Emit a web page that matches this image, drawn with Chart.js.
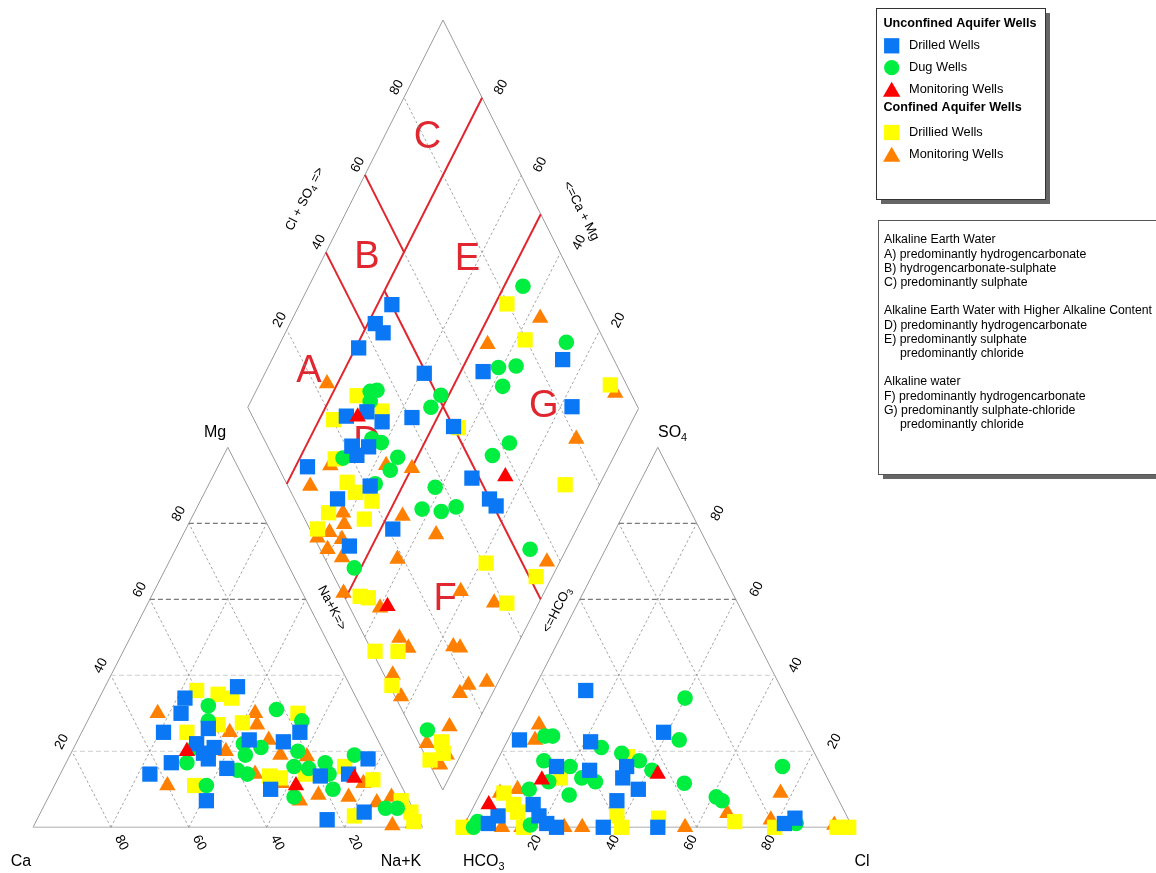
<!DOCTYPE html>
<html>
<head>
<meta charset="utf-8">
<title>Piper diagram</title>
<script src="https://cdn.jsdelivr.net/npm/chart.js@4/dist/chart.umd.min.js"></script>
<style>
html,body{margin:0;padding:0;background:#fff;}
canvas{display:block;}
</style>
</head>
<body>
<canvas id="piper" width="1156" height="873"></canvas>
<script>
// ---- Cation triangle: [Na+K %, Mg %]  (Ca = 100 - Na+K - Mg)
const cationDrilledU = [[34,37],[22,34],[23,30],[21,25],[32,26],[31,22],[36,21],[36,18],[34,19.5],[44,23],[53,22.5],[56,25],[27,17],[23,14],[42,15.5],[56,10],[41,7],[77,18],[74,14],[67,13.5],[83,4],[74.5,2]];
const cationDugU = [[29,32],[31,28],[47,31],[55,28],[31,21],[31,17],[43,22],[45,19],[48,21],[58,20],[59,16],[63,15.5],[66.5,17],[69,14],[73,19],[72,10],[39,11],[45,15],[48,14],[63,8],[88,5],[91,5]];
const cationMonU = [[29.5,20],[62,11],[76,13]];
const cationDrilledC = [[24,36],[30,35],[34,34],[27,25],[34,27],[40,27.5],[53,30],[36,11],[54,13.5],[57,13],[81,12.5],[81,3],[91,7],[97,1.5],[72,16],[63,14],[95,4]];
const cationMonC = [[17,30],[42,30],[44,27],[38,25],[39.5,20],[49,23],[54,19],[29,11],[79,11.6],[69,8.5],[77,8],[65,7],[85,6.5],[92,0.5],[97,1],[88,8],[58,11.6],[50,14],[61,18.6]];

// ---- Anion triangle: [Cl %, SO4 %]  (HCO3 = 100 - Cl - SO4)
const anionDrilledU = [[13.5,36],[39,25],[3,23],[21.5,22.5],[16,16],[25,15],[34,16],[34.5,13],[40,10],[36,7],[15,6],[7.5,3],[6,1],[18,3],[21,1],[24,0],[36,0],[50,0],[82,1],[84,2.4]];
const anionDugU = [[40,34],[44,23],[9,24],[11,24],[25,21],[31,19.5],[36.5,17.5],[41,15],[12,17.5],[19.5,16],[24,13],[28,12],[16,12],[12,10],[23,8.5],[51,11.6],[61,8],[63,7],[74,16],[3,1.5],[2.7,0],[17,0.6],[85,1]];
const anionMonU = [[14,12.5],[43,14],[3.6,6]];
const anionDrilledC = [[38,3],[40.7,0],[49,2.4],[69,1.5],[80,0],[96,0],[99,0],[0,0],[6,9],[10,6],[12,4],[15.5,0],[18.5,13],[33,18.6]];
const anionMonC = [[6,27],[7,23],[5,9],[9,10],[77,9],[66,3.7],[57,0],[30.6,0],[95,0.6],[78,2],[1,0],[10,0],[26,0],[15,0]];

// ---- Diamond: [Cl+SO4 %, Ca+Mg %]
const diamondDrilledU = [[50.1,76.3],[43.4,78.1],[44.2,74.9],[36,79.2],[49.5,59.1],[64.8,44.3],[86.8,25.6],[83.1,17.1],[24,73.5],[29.8,68.8],[32.4,63.6],[40.6,56.5],[50.1,44.7],[21.5,68.2],[25.7,63.8],[21.6,65.7],[7.5,76.9],[48.1,33.3],[21,58.3],[11,65],[49.9,26.1],[50.7,23.5],[21.2,46.9],[7.9,55.8]];
const diamondDugU = [[86.1,45.2],[90,26.9],[69.3,40.9],[74,36.6],[67.9,37.4],[33.3,70.6],[35.2,69],[32,69.3],[50.9,52],[46.8,53],[27.6,64],[29.5,61.1],[17.7,68.9],[31.8,55],[28.2,55.2],[62.3,28.3],[56.3,31],[22.6,57.3],[37.5,41.5],[31.3,42],[35.9,36.8],[40.3,33.6],[53.8,9.2],[6.3,51.7],[3.9,11.8]];
const diamondMonU = [[26.8,70.5],[56.9,25],[9.8,38.2]];
const diamondDrilledC = [[79.7,47],[79.7,37.7],[95.8,10.2],[29.4,73.4],[33.8,65],[20.3,76.3],[15.6,70.8],[51.2,43.3],[71.2,8.7],[15.6,64.7],[16.4,61.3],[19.5,55.9],[6.9,65.5],[2,66.2],[15.2,55.5],[40.7,18.6],[51.8,4.1],[4.1,46.5],[6,44.2],[40.8,8.1],[0.75,35.5],[6.6,29.6],[0.6,26.7],[0.65,7.2],[6,6.6],[4.9,4.7]];
const diamondMonC = [[86.4,36.7],[69.5,46.7],[23.3,82.7],[96,7.9],[80,11.8],[34,49.9],[5.7,73.7],[13.5,71.2],[27.8,56.9],[25.4,46.1],[31.6,35.1],[10.6,61.8],[9.4,60],[4.6,62.7],[6.9,58.6],[1.9,61],[4.5,56.2],[0.8,65.1],[18.5,41.8],[0.3,51.2],[7.7,39.9],[30.5,21.4],[37.6,11.4],[56.5,3.3],[8.7,31],[9.7,27.4],[21.4,16.1],[23,14.2],[2.2,27.9],[1.5,22.9],[20.3,7.2],[17,8.3],[25.4,2.9],[10,6.6],[2,10.2],[2.6,4],[5.6,3.6]];

// ---- Tick values and classification boundaries
const gridTicks = [20, 40, 60, 80];
const tickLabels = ['20', '40', '60', '80'];
const caMgBoundaries = [80, 50];               // full-width lines of constant Ca+Mg
const clSo4Upper = [40, 60];                   // constant Cl+SO4, only above Ca+Mg = 80
const clSo4Lower = [50];                       // constant Cl+SO4, below Ca+Mg = 80
const regionLetters = ['A', 'B', 'C', 'D', 'E', 'F', 'G'];
const regionCentres = [[20.4, 89.1], [50, 89], [81, 89], [26, 65], [75.5, 63], [25.5, 24.4], [76, 24.5]]; // [Cl+SO4, Ca+Mg]

// ---- Layout of the three plotting fields (in canvas units)
const LEFT  = {a:{x:33,  y:827.3}, b:{x:422.6, y:827.3}, c:{x:227.8, y:447.3}}; // Ca, Na+K, Mg
const RIGHT = {a:{x:463, y:827.3}, b:{x:852.6, y:827.3}, c:{x:657.8, y:447.3}}; // HCO3, Cl, SO4
const DIA   = {b:{x:442.8, y:790}, r:{x:638.5, y:408.5}, l:{x:247.8, y:407.3}, t:{x:443, y:20}};

function tri(T, p, q) {
  return {
    x: T.a.x + p / 100 * (T.b.x - T.a.x) + q / 100 * (T.c.x - T.a.x),
    y: T.a.y + p / 100 * (T.b.y - T.a.y) + q / 100 * (T.c.y - T.a.y)
  };
}
function dia(cs, cm) {
  const c = cs / 100, m = cm / 100, D = DIA;
  return {
    x: D.b.x + c * (D.r.x - D.b.x) + m * (D.l.x - D.b.x) + c * m * (D.t.x - D.r.x - D.l.x + D.b.x),
    y: D.b.y + c * (D.r.y - D.b.y) + m * (D.l.y - D.b.y) + c * m * (D.t.y - D.r.y - D.l.y + D.b.y)
  };
}

const series = [
  {label:'Monitoring Wells', color:'#ff0000', style:'triangle', radius:9.5, cat:cationMonU,     an:anionMonU,     di:diamondMonU,     order:1},
  {label:'Drilled Wells',    color:'#0a78f5', style:'rect',     radius:10.8, cat:cationDrilledU, an:anionDrilledU, di:diamondDrilledU, order:2},
  {label:'Dug Wells',        color:'#00ee40', style:'circle',   radius:7.8, cat:cationDugU,     an:anionDugU,     di:diamondDugU,     order:3},
  {label:'Drillied Wells',   color:'#ffff00', style:'rect',     radius:10.8, cat:cationDrilledC, an:anionDrilledC, di:diamondDrilledC, order:4},
  {label:'Monitoring Wells', color:'#ff8000', style:'triangle', radius:9.5, cat:cationMonC,     an:anionMonC,     di:diamondMonC,     order:5}
];

const datasets = [];
series.forEach(s => {
  const pts = []
    .concat(s.cat.map(v => tri(LEFT, v[0], v[1])))
    .concat(s.an.map(v => tri(RIGHT, v[0], v[1])))
    .concat(s.di.map(v => dia(v[0], v[1])));
  datasets.push({
    label: s.label, data: pts, showLine: false,
    pointStyle: s.style, pointRadius: s.radius, pointHoverRadius: s.radius,
    backgroundColor: s.color, borderColor: s.color, pointBorderWidth: 0,
    order: s.order
  });
});

function seg(points, color, width, dash, order) {
  datasets.push({
    data: points, showLine: true, pointRadius: 0, pointHoverRadius: 0,
    borderColor: color, borderWidth: width, borderDash: dash || [], fill: false,
    order: order || 50, tension: 0
  });
}

// triangles: frame and grid
[LEFT, RIGHT].forEach(T => {
  gridTicks.forEach(k => {
    const strong = k >= 60;
    seg([tri(T, 0, k), tri(T, 100 - k, k)], strong ? '#7a7a7a' : '#cfcfcf', strong ? 1.2 : 1, [5, 3]);
    seg([tri(T, k, 0), tri(T, k, 100 - k)], '#8a8a8a', 0.8, [2.5, 2.5]);
    seg([tri(T, 100 - k, 0), tri(T, 0, 100 - k)], '#8a8a8a', 0.8, [2.5, 2.5]);
  });
  seg([tri(T, 0, 0), tri(T, 100, 0)], '#c8c8c8', 1.6);
  seg([tri(T, 100, 0), tri(T, 0, 100), tri(T, 0, 0)], '#9a9a9a', 1);
});

// diamond: frame and grid
gridTicks.forEach(k => {
  seg([dia(k, 0), dia(k, 100)], '#8a8a8a', 0.8, [2.5, 2.5]);
  seg([dia(0, k), dia(100, k)], '#8a8a8a', 0.8, [2.5, 2.5]);
});
seg([dia(0, 0), dia(100, 0), dia(100, 100), dia(0, 100), dia(0, 0)], '#9a9a9a', 1);

// classification boundaries
const RED = '#e0262e';
caMgBoundaries.forEach(v => seg([dia(0, v), dia(100, v)], RED, 2, [], 20));
clSo4Upper.forEach(v => seg([dia(v, 80), dia(v, 100)], RED, 2, [], 20));
clSo4Lower.forEach(v => seg([dia(v, 0), dia(v, 80)], RED, 2, [], 20));

// ---- text helpers
const FONT = '"Liberation Sans", Arial, Helvetica, sans-serif';
const ANG = Math.atan2(380, 194.8);

function richText(ctx, parts, x, y, angle, size, align) {
  ctx.save();
  ctx.translate(x, y);
  ctx.rotate(angle);
  ctx.textBaseline = 'middle';
  ctx.textAlign = 'left';
  let total = 0;
  const widths = parts.map(p => {
    ctx.font = (p.sub ? size * 0.68 : size) + 'px ' + FONT;
    const w = ctx.measureText(p.t).width;
    total += w;
    return w;
  });
  let pos = align === 'left' ? 0 : -total / 2;
  parts.forEach((p, i) => {
    ctx.font = (p.sub ? size * 0.68 : size) + 'px ' + FONT;
    ctx.fillText(p.t, pos, p.sub ? size * 0.3 : 0);
    pos += widths[i];
  });
  ctx.restore();
}

function marker(ctx, style, x, y, r, color) {
  ctx.save();
  ctx.fillStyle = color;
  ctx.beginPath();
  if (style === 'rect') {
    const h = r * Math.SQRT1_2;
    ctx.rect(x - h, y - h, 2 * h, 2 * h);
  } else if (style === 'circle') {
    ctx.arc(x, y, r, 0, Math.PI * 2);
  } else {
    ctx.moveTo(x, y - r);
    ctx.lineTo(x + r * Math.sin(Math.PI * 2 / 3), y + r / 2);
    ctx.lineTo(x - r * Math.sin(Math.PI * 2 / 3), y + r / 2);
    ctx.closePath();
  }
  ctx.fill();
  ctx.restore();
}

const legendGroups = [
  {title: 'Unconfined Aquifer Wells', items: [series[1], series[2], series[0]]},
  {title: 'Confined Aquifer Wells', items: [series[3], series[4]]}
];
const classNotes = [
  ['Alkaline Earth Water', 0],
  ['A) predominantly hydrogencarbonate', 0],
  ['B) hydrogencarbonate-sulphate', 0],
  ['C) predominantly sulphate', 0],
  ['', 0],
  ['Alkaline Earth Water with Higher Alkaline Content', 0],
  ['D) predominantly hydrogencarbonate', 0],
  ['E) predominantly sulphate', 0],
  ['predominantly chloride', 1],
  ['', 0],
  ['Alkaline water', 0],
  ['F) predominantly hydrogencarbonate', 0],
  ['G) predominantly sulphate-chloride', 0],
  ['predominantly chloride', 1]
];

const piperText = {
  id: 'piperText',
  beforeDatasetsDraw(chart) {
    const ctx = chart.ctx, sx = chart.scales.x, sy = chart.scales.y;
    ctx.save();
    ctx.fillStyle = RED;
    ctx.font = '38px ' + FONT;
    ctx.textAlign = 'center';
    ctx.textBaseline = 'middle';
    regionLetters.forEach((L, i) => {
      const p = dia(regionCentres[i][0], regionCentres[i][1]);
      ctx.fillText(L, sx.getPixelForValue(p.x), sy.getPixelForValue(p.y) + 1);
    });
    ctx.restore();
  },
  afterDatasetsDraw(chart) {
    const ctx = chart.ctx, sx = chart.scales.x, sy = chart.scales.y;
    const X = v => sx.getPixelForValue(v), Y = v => sy.getPixelForValue(v);
    ctx.save();
    ctx.fillStyle = '#000';

    // tick labels
    gridTicks.forEach((k, i) => {
      const t = [{t: tickLabels[i]}];
      let p = tri(LEFT, 100 - k, 0);            // Ca along the base
      richText(ctx, t, X(p.x) + 10.5, Y(p.y) + 15.5, ANG, 13.5);
      p = tri(LEFT, 0, k);                      // Mg along the left side
      richText(ctx, t, X(p.x) - 10, Y(p.y) - 9.5, -ANG, 13.5);
      p = tri(RIGHT, k, 0);                     // Cl along the base
      richText(ctx, t, X(p.x) - 6, Y(p.y) + 15.5, -ANG, 13.5);
      p = tri(RIGHT, 100 - k, k);               // SO4 along the right side
      richText(ctx, t, X(p.x) + 21, Y(p.y) - 10, -ANG, 13.5);
      p = dia(k, 100);                          // Cl+SO4 on the upper left
      richText(ctx, t, X(p.x) - 7, Y(p.y) - 10, -ANG, 13.5);
      p = dia(100, k);                          // Ca+Mg on the upper right
      richText(ctx, t, X(p.x) + 19, Y(p.y) - 10.5, -ANG, 13.5);
    });

    // corner and axis names
    richText(ctx, [{t:'Ca'}], X(21), Y(862), 0, 16);
    richText(ctx, [{t:'Na+K'}], X(401), Y(862), 0, 16);
    richText(ctx, [{t:'Mg'}], X(215), Y(433), 0, 16);
    richText(ctx, [{t:'HCO'}, {t:'3', sub:true}], X(463), Y(862), 0, 16, 'left');
    richText(ctx, [{t:'Cl'}], X(862), Y(862), 0, 16);
    richText(ctx, [{t:'SO'}, {t:'4', sub:true}], X(658), Y(433), 0, 16, 'left');
    richText(ctx, [{t:'Cl + SO'}, {t:'4', sub:true}, {t:' =>'}], X(305), Y(199), -ANG, 13);
    richText(ctx, [{t:'<=Ca + Mg'}], X(581), Y(211), ANG, 13);
    richText(ctx, [{t:'Na+K=>'}], X(332), Y(608), ANG, 13);
    richText(ctx, [{t:'<=HCO'}, {t:'3', sub:true}], X(557), Y(610), -ANG, 13);

    // legend box
    const bx = X(876), by = Y(8), bw = 169, bh = 191;
    ctx.fillStyle = '#666';
    ctx.fillRect(bx + 5, by + 5, bw, bh);
    ctx.fillStyle = '#fff';
    ctx.fillRect(bx, by, bw, bh);
    ctx.strokeStyle = '#333';
    ctx.lineWidth = 1;
    ctx.strokeRect(bx + 0.5, by + 0.5, bw, bh);
    const rows = [24, 45.8, 67.7, 89.3, 108, 132.5, 154.3];
    let r = 0;
    ctx.textBaseline = 'middle';
    ctx.textAlign = 'left';
    legendGroups.forEach(g => {
      ctx.fillStyle = '#000';
      ctx.font = 'bold 12.6px ' + FONT;
      ctx.fillText(g.title, X(883.5), Y(rows[r++]));
      g.items.forEach(s => {
        const yy = Y(rows[r++]);
        const rr = s.style === 'circle' ? 7.6 : (s.style === 'rect' ? 10.8 : 10);
        marker(ctx, s.style, X(891.7), yy + (s.style === 'triangle' ? 2.5 : 0), rr, s.color);
        ctx.fillStyle = '#000';
        ctx.font = '12.8px ' + FONT;
        ctx.fillText(s.label, X(909), yy);
      });
    });

    // classification notes box
    const nx = X(878), ny = Y(220), nw = 290, nh = 254;
    ctx.fillStyle = '#666';
    ctx.fillRect(nx + 5, ny + 5, nw, nh);
    ctx.fillStyle = '#fff';
    ctx.fillRect(nx, ny, nw, nh);
    ctx.strokeStyle = '#555';
    ctx.strokeRect(nx + 0.5, ny + 0.5, nw, nh);
    ctx.fillStyle = '#000';
    ctx.font = '12.3px ' + FONT;
    classNotes.forEach((n, i) => {
      if (!n[0]) return;
      ctx.fillText(n[0], X(884 + n[1] * 16), Y(240 + i * 14.2), 268);
    });
    ctx.restore();
  }
};

new Chart(document.getElementById('piper'), {
  type: 'scatter',
  data: {datasets},
  options: {
    responsive: false,
    animation: false,
    devicePixelRatio: 1,
    layout: {padding: 0, autoPadding: false},
    events: [],
    plugins: {legend: {display: false}, tooltip: {enabled: false}},
    scales: {
      x: {type: 'linear', min: 0, max: 1156, display: false},
      y: {type: 'linear', min: 0, max: 873, reverse: true, display: false}
    }
  },
  plugins: [piperText]
});
</script>
</body>
</html>
